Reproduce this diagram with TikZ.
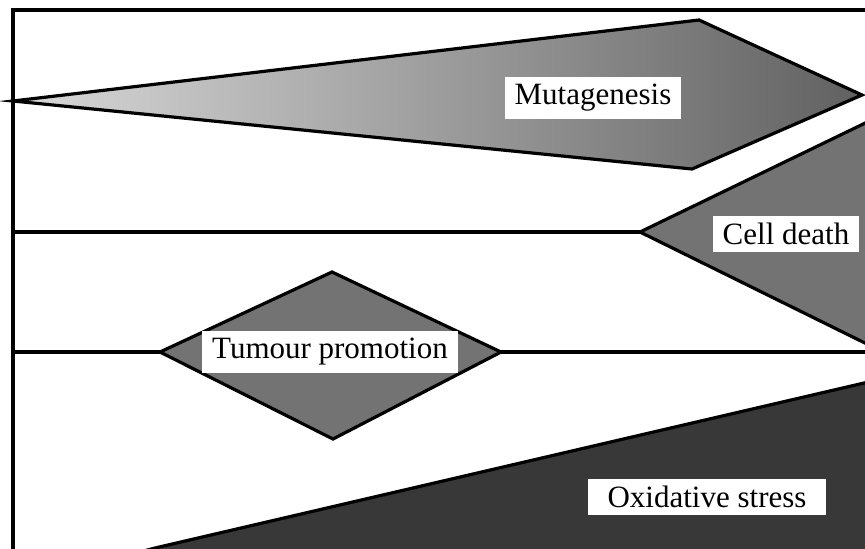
\documentclass[tikz,border=0pt]{standalone}
\usepackage{fontspec}
\setmainfont{Liberation Serif}
\usetikzlibrary{positioning}

\begin{document}
\begin{tikzpicture}[
    x=0.5pt, y=-0.5pt,
    outline/.style={line width=1.6pt, line join=miter},
    lobe/.style={outline, draw=black, fill=black!55},
    tag/.style={fill=white, inner xsep=5pt, inner ysep=3.5pt,
      font=\fontsize{15.5}{18}\selectfont},
  ]
    \useasboundingbox (0,0) rectangle (865,548);
    \clip (0,0) rectangle (865,548);
    % frame and levels
    \coordinate (tl) at (13,10);
    \coordinate (tr) at (870,10);
    \coordinate (bl) at (13,560);
    \coordinate (mutL) at (13,101);
    \coordinate (deathL) at (640,232);
    \coordinate (tumL) at (160,352);
    \coordinate (tumR) at (501,352);
    \draw[outline] (tr) -- (tl) -- (bl);
    \draw[outline] (13,232) -- (deathL);
    \draw[outline] (13,352) -- (tumL);
    \draw[outline] (tumR) -- (870,352);
    % mutagenesis
    \shadedraw[outline, left color=black!15, right color=black!62]
      (mutL) -- (699,20) -- (862,95) -- (692,169) -- cycle;
    % cell death
    \fill[black!55] (deathL) -- (950,82) -- (950,385) -- cycle;
    \draw[outline] (950,82) -- (deathL) -- (950,385);
    % tumour promotion
    \draw[lobe] (tumL) -- (332,272) -- (tumR) -- (333,439) -- cycle;
    % oxidative stress
    \fill[black!78] (155,548) -- (950,363) -- (950,560) -- (155,560) -- cycle;
    \draw[outline] (140,552) -- (155,548) -- (950,363);
    % labels
    \node[tag] (mut) at (593,98) {Mutagenesis};
    \node[tag] (death) at (786,234) {Cell death};
    \node[tag] (tum) at (330,352) {Tumour promotion};
    \node[tag, inner xsep=10pt] (oxi) at (707,497) {Oxidative stress};
  \end{tikzpicture}
\end{document}
